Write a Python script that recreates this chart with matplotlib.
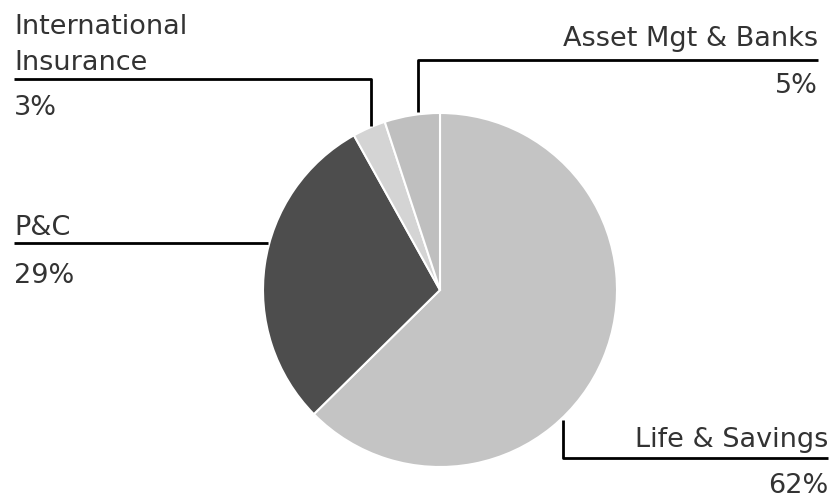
import matplotlib
matplotlib.use('Agg')
import matplotlib.pyplot as plt

plt.rcParams['font.family'] = ['DejaVu Sans']

# data
labels = ['Life & Savings', 'P&C', 'International\nInsurance', 'Asset Mgt & Banks']
shares = [62, 29, 3, 5]
colors = ['#c4c4c4', '#4d4d4d', '#d4d4d4', '#bfbfbf']

W, H = 838, 499
fig = plt.figure(figsize=(W / 100, H / 100), dpi=100)
fig.set_facecolor('white')
ax = fig.add_axes([0, 0, 1, 1])

cx, cy, r = 440, H - 290, 177
ax.pie(shares, colors=colors, startangle=90, counterclock=False,
       center=(cx, cy), radius=r, frame=True,
       wedgeprops=dict(edgecolor='white', linewidth=1.5))
ax.set_xlim(0, W)
ax.set_ylim(0, H)
ax.set_aspect('equal')
ax.axis('off')

def py(v):
    return H - v

txt = dict(fontsize=19.5, color='#333333')
lk = dict(color='black', linewidth=2, solid_capstyle='butt')

# International Insurance
ax.plot([14, 371, 371], [py(79), py(79), py(126)], **lk)
ax.text(14, py(70), labels[2], ha='left', va='baseline', linespacing=1.5, **txt)
ax.text(14, py(115), '%d%%' % shares[2], ha='left', va='baseline', **txt)

# Asset Mgt & Banks
ax.plot([818, 418, 418], [py(60), py(60), py(112)], **lk)
ax.text(818, py(46), labels[3], ha='right', va='baseline', **txt)
ax.text(818, py(93), '%d%%' % shares[3], ha='right', va='baseline', **txt)

# P&C
ax.plot([14, 268], [py(243), py(243)], **lk)
ax.text(14, py(235), labels[1], ha='left', va='baseline', **txt)
ax.text(14, py(283), '%d%%' % shares[1], ha='left', va='baseline', **txt)

# Life & Savings
ax.plot([563, 563, 828], [py(420), py(458), py(458)], **lk)
ax.text(828, py(447), labels[0], ha='right', va='baseline', **txt)
ax.text(828, py(493), '%d%%' % shares[0], ha='right', va='baseline', **txt)

fig.savefig('out.png', dpi=100, facecolor='white')
